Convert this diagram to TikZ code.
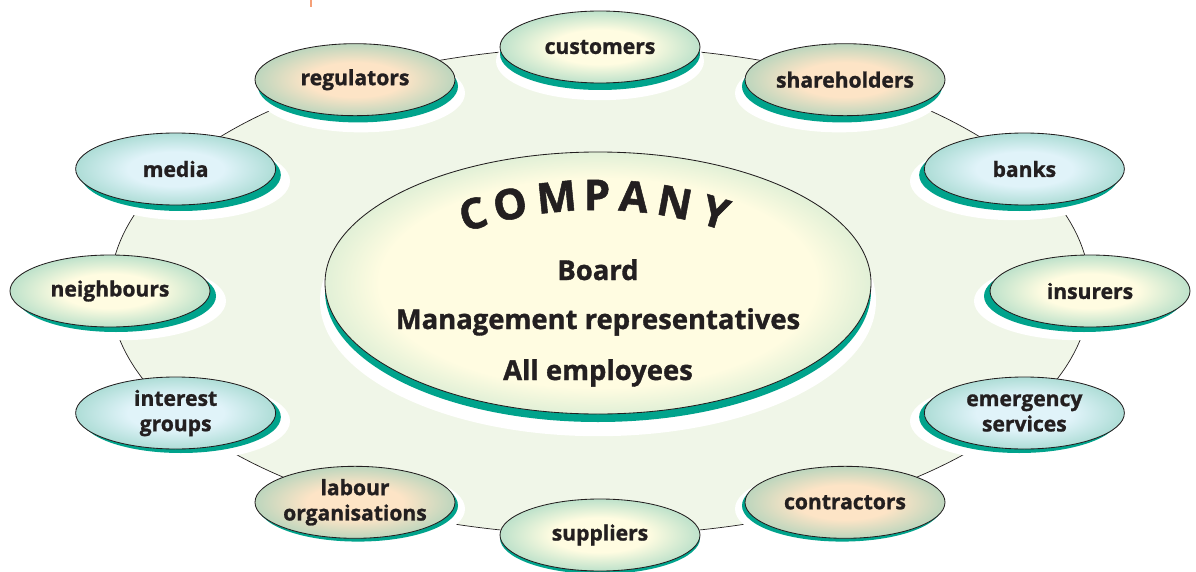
\documentclass[tikz,border=0pt]{standalone}
\usepackage{fontspec}
\setmainfont{Open Sans}[BoldFeatures={FakeBold=1.2}]
\usetikzlibrary{positioning,shapes.geometric}

\definecolor{ringfill}{RGB}{240,246,232}
\definecolor{rimteal}{RGB}{0,163,140}
\definecolor{edgeteal}{RGB}{124,199,180}
\definecolor{coreyellow}{RGB}{255,252,225}
\definecolor{corepeach}{RGB}{253,228,198}
\definecolor{coreblue}{RGB}{224,243,249}
\definecolor{inkblack}{RGB}{35,31,32}
\definecolor{stray}{RGB}{245,160,120}

\pgfdeclareradialshading{yellowcore}{\pgfpoint{0bp}{0bp}}{color(0bp)=(coreyellow); color(12bp)=(coreyellow); color(38bp)=(edgeteal); color(50bp)=(edgeteal)}
\pgfdeclareradialshading{peachcore}{\pgfpoint{0bp}{0bp}}{color(0bp)=(corepeach); color(12bp)=(corepeach); color(38bp)=(edgeteal); color(50bp)=(edgeteal)}
\pgfdeclareradialshading{bluecore}{\pgfpoint{0bp}{0bp}}{color(0bp)=(coreblue); color(12bp)=(coreblue); color(38bp)=(edgeteal); color(50bp)=(edgeteal)}
\pgfdeclareradialshading{companycore}{\pgfpoint{0bp}{0bp}}{color(0bp)=(coreyellow); color(20bp)=(coreyellow); color(42bp)=(edgeteal); color(50bp)=(edgeteal)}

\tikzset{
  stake/.style={ellipse, draw=inkblack, line width=0.6pt, minimum width=5cm, minimum height=1.8cm, inner sep=0pt, shade},
  stakelabel/.style={font=\bfseries\fontsize{15}{18}\selectfont, text=inkblack, align=center, inner sep=0pt},
  company/.style={ellipse, draw=inkblack, line width=0.6pt, minimum width=13.65cm, minimum height=6.55cm, inner sep=0pt, shade, shading=companycore},
  companytext/.style={font=\bfseries\fontsize{19.5}{23}\selectfont, text=inkblack, inner sep=0pt, anchor=base},
  companytitle/.style={font=\bfseries\fontsize{30}{34}\selectfont, text=inkblack, inner sep=0pt, anchor=base},
  rim/.style={fill=rimteal},
  halo/.style={fill=white},
}

\begin{document}
\begin{tikzpicture}
  \useasboundingbox (0,0) rectangle (29.9,14.275);
  \draw[stray, line width=1.4pt] (7.775,14.275) -- (7.775,14.1);

  % outer ring
  \draw[fill=ringfill, draw=inkblack, line width=0.5pt] (15,7.0) ellipse [x radius=12.25, y radius=6.1];

  % company in the middle
  \fill[halo] (14.95,6.75) ellipse [x radius=6.95, y radius=3.38];
  \fill[rim] (14.95,7.0) ellipse [x radius=6.825, y radius=3.275];
  \node[company] (nCompany) at (14.95,7.2) {};
  \begin{scope}[shift={(14.925,-0.975)}]
    \foreach \ch/\tilt in {C/-17.4, O/-12.1, M/-5.6, P/0, A/5.1, N/10.8, Y/16.6}
      \node[companytitle, rotate=-\tilt] (n\ch) at ({90-\tilt}:10) {\ch};
  \end{scope}
  \node[companytext] (nBoard) at (14.95,7.275) {Board};
  \node[companytext] (nManagement) at (14.95,6.05) {Management representatives};
  \node[companytext] (nEmployees) at (14.95,4.775) {All employees};

  % stakeholders round the ring
  \begin{scope}[shift={(15,7.0)}]
    \foreach \ang/\nm/\core/\txt in {90/nCustomers/yellowcore/customers,
        60/nShareholders/peachcore/shareholders,
        30/nBanks/bluecore/banks,
        0/nInsurers/yellowcore/insurers,
        -30/nEmergency/bluecore/{emergency\\services},
        -60/nContractors/peachcore/contractors,
        -90/nSuppliers/yellowcore/suppliers,
        -120/nLabour/peachcore/{labour\\organisations},
        -150/nInterest/bluecore/{interest\\groups},
        180/nNeighbours/yellowcore/neighbours,
        150/nMedia/bluecore/media,
        120/nRegulators/peachcore/regulators} {
      \pgfmathsetmacro\dx{-0.15*cos(\ang)}
      \pgfmathsetmacro\dy{-0.125-0.05*sin(\ang)}
      \fill[halo] ([shift={(2*\dx,2*\dy)}]\ang:12.25 and 6.1) ellipse [x radius=2.6, y radius=0.98];
      \fill[rim] ([shift={(\dx,\dy)}]\ang:12.25 and 6.1) ellipse [x radius=2.5, y radius=0.9];
      \node[stake, shading=\core, label={[stakelabel]center:\txt}] (\nm) at (\ang:12.25 and 6.1) {};
    }
  \end{scope}
\end{tikzpicture}
\end{document}
